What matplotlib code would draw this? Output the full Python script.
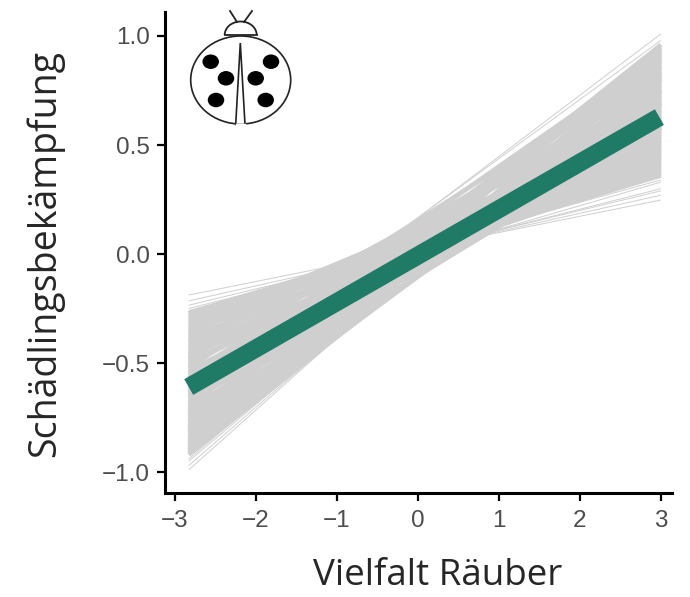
import matplotlib
matplotlib.use('Agg')
import matplotlib.pyplot as plt
from matplotlib.patches import Arc, Ellipse, Polygon

# one posterior line per pair, read at the two ends of the band
x_ends = [-2.83, 3.0]
left_body = [-0.92, -0.91, -0.90, -0.89, -0.88, -0.87, -0.86, -0.85, -0.84, -0.83, -0.82,
	-0.81, -0.80, -0.79, -0.78, -0.77, -0.76, -0.75, -0.74, -0.73, -0.72, -0.71,
	-0.70, -0.69, -0.68, -0.67, -0.66, -0.65, -0.64, -0.63, -0.62, -0.61, -0.60,
	-0.59, -0.58, -0.57, -0.56, -0.55, -0.54, -0.53, -0.52, -0.51, -0.50, -0.49,
	-0.48, -0.47, -0.46, -0.45, -0.44, -0.43, -0.42, -0.41, -0.40, -0.39, -0.38,
	-0.37, -0.36, -0.35, -0.34, -0.33, -0.32, -0.31, -0.30, -0.29, -0.28, -0.27]
right_body = [0.80, 0.86, 0.76, 0.91, 0.72, 0.82, 0.95, 0.70, 0.88, 0.78, 0.66,
	0.93, 0.74, 0.84, 0.62, 0.96, 0.69, 0.80, 0.58, 0.90, 0.73, 0.64,
	0.94, 0.85, 0.60, 0.77, 0.54, 0.89, 0.68, 0.83, 0.52, 0.75, 0.63, 0.92,
	0.56, 0.71, 0.50, 0.81, 0.61, 0.48, 0.87, 0.67, 0.57, 0.46, 0.79, 0.53,
	0.65, 0.44, 0.59, 0.75, 0.42, 0.55, 0.69, 0.47, 0.40, 0.62, 0.51, 0.38,
	0.45, 0.58, 0.43, 0.37, 0.49, 0.36, 0.41, 0.39]

left_thin = [-0.99, -0.97, -0.95, -0.94, -0.188, -0.215, -0.235, -0.25, -0.26, -0.275, -0.30, -0.63, -0.60]
right_thin = [0.94, 0.91, 0.88, 0.90, 0.248, 0.27, 0.29, 0.30, 0.34, 0.355, 0.33, 1.01, 0.98]

mean_x = [-2.83, 2.98]
mean_y = [-0.61, 0.628]

x_ticks = [-3, -2, -1, 0, 1, 2, 3]
y_ticks = [-1.0, -0.5, 0.0, 0.5, 1.0]
x_labels = ['\u22123', '\u22122', '\u22121', '0', '1', '2', '3']
y_labels = ['\u22121.0', '\u22120.5', '0.0', '0.5', '1.0']

Gray = '#cfcfcf'
Green = '#1f7a66'

fig = plt.figure(figsize=(6.9, 5.97), dpi=100)
ax = fig.add_axes([165/690, (597-493)/597, (672-165)/690, (493-12)/597])

for l, r in zip(left_body, right_body):
	ax.plot(x_ends, [l, r], color=Gray, linewidth=3.2, solid_capstyle='butt')
for l, r in zip(left_thin, right_thin):
	ax.plot(x_ends, [l, r], color=Gray, linewidth=0.7, solid_capstyle='butt')
ax.plot(mean_x, mean_y, color=Green, linewidth=13, solid_capstyle='butt')

ax.set_xlim(-3.123, 3.136)
ax.set_ylim(-1.096, 1.11)
ax.set_xticks(x_ticks)
ax.set_xticklabels(x_labels, fontfamily='Liberation Sans', fontsize=17.5, color='#4d4d4d')
ax.set_yticks(y_ticks)
ax.set_yticklabels(y_labels, fontfamily='Liberation Sans', fontsize=17.5, color='#4d4d4d')
ax.tick_params(axis='x', length=6, width=1.6, color='black', pad=6)
ax.tick_params(axis='y', length=6, width=1.6, color='black', pad=5)
ax.spines['top'].set_visible(False)
ax.spines['right'].set_visible(False)
ax.spines['left'].set_linewidth(2.2)
ax.spines['bottom'].set_linewidth(2.2)

fig.text(45/690, 1-253/597, 'Sch\u00e4dlingsbek\u00e4mpfung', rotation=90, ha='center', va='center',
	fontfamily='Open Sans', fontsize=27, color='#262626')
fig.text(438/690, 1-576/597, 'Vielfalt R\u00e4uber', ha='center', va='center',
	fontfamily='Open Sans', fontsize=26.5, color='#262626')

# ladybird icon, drawn in pixel coordinates
bug = fig.add_axes([0, 0, 1, 1], facecolor='none')
bug.set_xlim(0, 690)
bug.set_ylim(597, 0)
bug.axis('off')
bug.add_patch(Arc((240.7, 35), 32, 27, theta1=180, theta2=360, edgecolor='#222222', linewidth=1.3))
bug.plot([224.7, 256.7], [35, 35], color='#222222', linewidth=1.3)
bug.plot([230, 237], [11, 22], color='#222222', linewidth=1.3)
bug.plot([252, 244], [11, 22], color='#222222', linewidth=1.3)
bug.add_patch(Ellipse((240.7, 80), 100, 88, facecolor='white', edgecolor='#222222', linewidth=1.2))
bug.add_patch(Polygon([(240.3, 43), (235.7, 124.5), (245, 124.5)], facecolor='white', edgecolor='#222222', linewidth=1.2))
bug.plot([236.8, 244], [125, 125], color='white', linewidth=2.5)
for sx, sy in [(210.7, 61.7), (226, 78.3), (216, 100), (271, 61.7), (255.7, 78.3), (265.7, 100)]:
	bug.add_patch(Ellipse((sx, sy), 16.5, 14.5, facecolor='black', edgecolor='none'))

plt.savefig('out.png', dpi=100)
